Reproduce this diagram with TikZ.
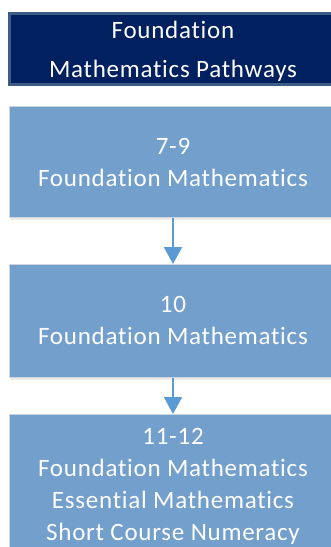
\documentclass[tikz,border=0pt]{standalone}
\usepackage{fontspec}
\setmainfont{Carlito}[Ligatures={NoCommon}, LetterSpace=3]
\usetikzlibrary{arrows.meta}
\definecolor{navy}{RGB}{0,32,96}
\definecolor{navyedge}{RGB}{60,92,132}
\definecolor{boxblue}{RGB}{115,159,205}
\definecolor{boxedge}{RGB}{205,212,222}
\definecolor{arrowblue}{RGB}{91,155,213}
\tikzset{
  titlebox/.style={draw=navyedge, fill=navy, line width=3pt, minimum width=327pt, minimum height=71pt, inner sep=0pt, anchor=north},
  stagebox/.style={draw=boxedge, fill=boxblue, line width=0.8pt, minimum width=328pt, inner sep=0pt, anchor=north},
  txt/.style={text=white, anchor=base, inner sep=0pt, font=\fontsize{25}{32}\selectfont},
  flow/.style={draw=arrowblue, line width=2pt, -{Triangle[width=18pt,length=17pt]}},
}
\begin{document}
\begin{tikzpicture}[x=1pt,y=-1pt]
\clip (0,0) rectangle (331,547);
\fill[white] (0,0) rectangle (331,547);
\node[titlebox] (title) at (173,11.5) {};
\node[txt] (title1) at (173,38) {Foundation};
\node[txt] (title2) at (173,77) {Mathematics Pathways};
\fill[gray!15] (10,108) rectangle (339,220);
\node[stagebox, minimum height=111pt] (b1) at (173,106) {};
\node[txt] (b1a) at (173,154) {7-9};
\node[txt] (b1b) at (173,186) {Foundation Mathematics};
\fill[gray!15] (10,266) rectangle (339,380);
\node[stagebox, minimum height=113pt] (b2) at (173,264) {};
\node[txt] (b2a) at (173,312) {10};
\node[txt] (b2b) at (173,344) {Foundation Mathematics};
\node[stagebox, minimum height=150pt] (b3) at (173,414) {};
\node[txt] (b3a) at (173,444) {11-12};
\node[txt] (b3b) at (173,476) {Foundation Mathematics};
\node[txt] (b3c) at (173,508) {Essential Mathematics};
\node[txt] (b3d) at (173,540) {Short Course Numeracy};
\draw[flow] (b1.south) -- (b2.north);
\draw[flow] (b2.south) -- (b3.north);
\end{tikzpicture}
\end{document}
